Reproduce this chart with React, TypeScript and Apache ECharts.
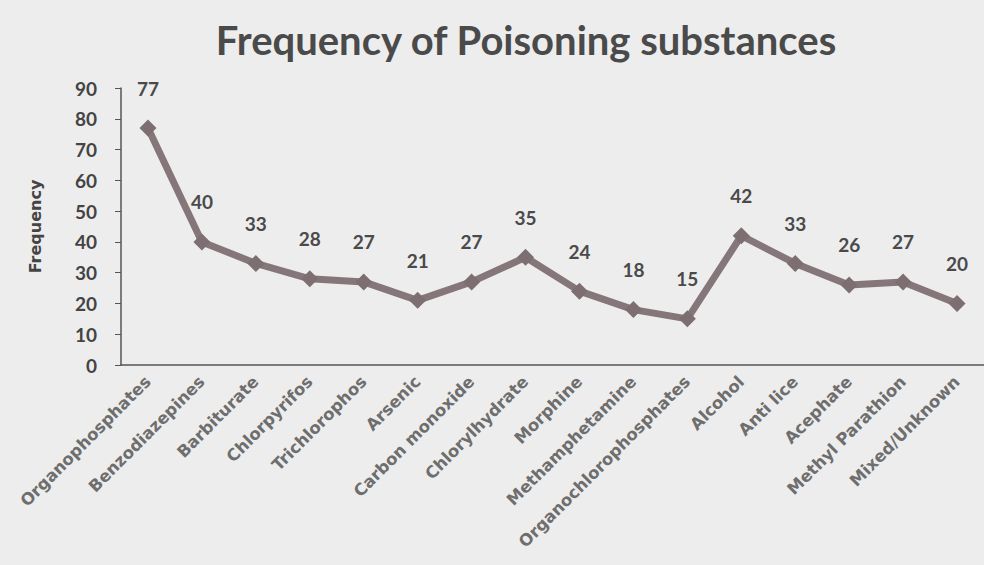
import React, { useEffect, useRef } from "react";
import * as echarts from "echarts";

const categories = [
  "Organophosphates",
  "Benzodiazepines",
  "Barbiturate",
  "Chlorpyrifos",
  "Trichlorophos",
  "Arsenic",
  "Carbon monoxide",
  "Chlorylhydrate",
  "Morphine",
  "Methamphetamine",
  "Organochlorophosphates",
  "Alcohol",
  "Anti lice",
  "Acephate",
  "Methyl Parathion",
  "Mixed/Unknown",
];
const frequency = [77, 40, 33, 28, 27, 21, 27, 35, 24, 18, 15, 42, 33, 26, 27, 20];
const yTicks = { min: 0, max: 90, interval: 10 };

export default function App() {
  const ref = useRef<HTMLDivElement>(null);
  useEffect(() => {
    if (!ref.current) return;
    const chart = echarts.init(ref.current, null, { renderer: "svg" });
    chart.setOption({
      animation: false,
      backgroundColor: "#ededed",
      title: {
        text: "Frequency of Poisoning substances",
        left: 521,
        top: 15,
        textAlign: "center",
        textStyle: {
          fontFamily: "Lato",
          fontWeight: "bold",
          fontSize: 40,
          color: "#4a4a4a",
        },
      },
      grid: { left: 121, right: -9, top: 88, bottom: 200 },
      xAxis: {
        type: "category",
        data: categories,
        boundaryGap: true,
        axisLine: { lineStyle: { color: "#555", width: 1.5 } },
        axisTick: { show: false },
        axisLabel: {
          rotate: 45,
          interval: 0,
          margin: 14,
          fontFamily: "DejaVu Sans",
          fontWeight: "bold",
          fontSize: 16.5,
          color: "#6e6e6e",
        },
      },
      yAxis: {
        type: "value",
        min: yTicks.min,
        max: yTicks.max,
        interval: yTicks.interval,
        name: "Frequency",
        nameLocation: "middle",
        nameGap: 78,
        nameRotate: 90,
        nameTextStyle: {
          fontFamily: "DejaVu Sans",
          fontWeight: "bold",
          fontSize: 16,
          color: "#444",
        },
        axisLine: { show: true, lineStyle: { color: "#555", width: 1.5 } },
        axisTick: { show: true, length: 6, lineStyle: { color: "#555" } },
        splitLine: { show: false },
        axisLabel: {
          margin: 24,
          fontFamily: "Lato",
          fontWeight: "bold",
          fontSize: 19,
          color: "#444",
        },
      },
      series: [
        {
          type: "line",
          data: frequency,
          symbol: "diamond",
          symbolSize: 17,
          lineStyle: { color: "#857679", width: 7 },
          itemStyle: { color: "#7d6e71" },
          label: {
            show: true,
            position: "top",
            distance: 22,
            fontFamily: "Lato",
            fontWeight: "bold",
            fontSize: 19,
            color: "#4a4a4a",
          },
        },
      ],
    });
    return () => chart.dispose();
  }, []);
  return (
    <div
      ref={ref}
      style={{ position: "fixed", left: 0, top: 0, width: 984, height: 565 }}
    />
  );
}
